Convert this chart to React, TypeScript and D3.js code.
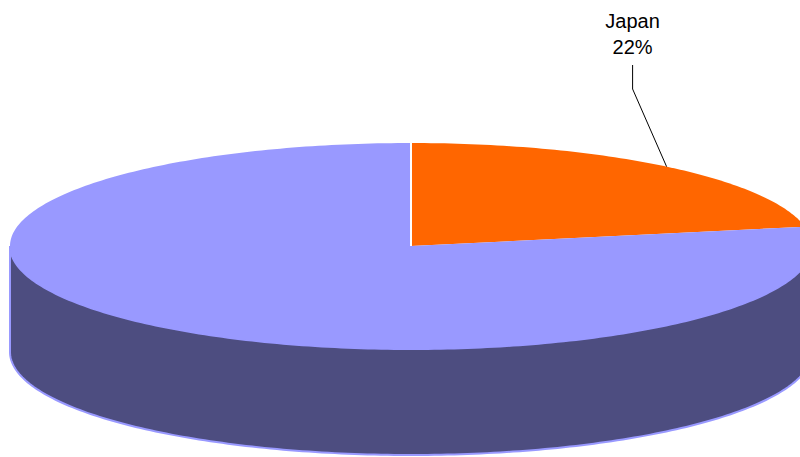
import * as d3 from 'd3';
import React from 'react';

const width = 800;
const height = 457;

// pie data
const categories = ['Japan', 'Other'];
const values = [22, 78];
const showLabel = [true, false];
const topColors = ['#FF6600', '#9999FF'];
const sideColors = ['#803300', '#4D4D80'];

const cx = 411;
const cy = 246;
const rx = 401;
const ry = 103;
const depth = 106;

const pt = (a: number, dy = 0): [number, number] => [cx + rx * Math.sin(a), cy - ry * Math.cos(a) + dy];

const arcPoints = (a0: number, a1: number, dy = 0) => {
  const n = Math.max(2, Math.ceil(Math.abs(a1 - a0) * 60));
  return d3.range(n + 1).map(i => pt(a0 + ((a1 - a0) * i) / n, dy));
};

const topPath = (a0: number, a1: number) => {
  const p = d3.path();
  p.moveTo(cx, cy);
  arcPoints(a0, a1).forEach(([x, y]) => p.lineTo(x, y));
  p.closePath();
  return p.toString();
};

const sidePath = (a0: number, a1: number) => {
  const s = Math.max(a0, Math.PI / 2);
  const e = Math.min(a1, (3 * Math.PI) / 2);
  if (e <= s) return null;
  const p = d3.path();
  const top = arcPoints(s, e);
  const bottom = arcPoints(e, s, depth);
  top.forEach(([x, y], i) => (i ? p.lineTo(x, y) : p.moveTo(x, y)));
  bottom.forEach(([x, y]) => p.lineTo(x, y));
  p.closePath();
  return p.toString();
};

const App = () => {
  const pie = d3.pie<number>().sort(null).value(d => d);
  const arcs = pie(values);
  const percent = d3.format('.0%');
  const total = d3.sum(values);
  const [sx, sy] = pt(arcs[0].startAngle);

  return (
    <svg width={width} height={height} style={{ position: 'absolute', left: 0, top: 0 }}>
      <g>
        {arcs.map((a, i) => {
          const d = sidePath(a.startAngle, a.endAngle);
          return d ? <path key={'s' + i} d={d} fill={sideColors[i]} stroke={topColors[i]} strokeWidth={2} /> : null;
        })}
      </g>
      <g>
        {arcs.map((a, i) => (
          <path key={'t' + i} d={topPath(a.startAngle, a.endAngle)} fill={topColors[i]} />
        ))}
        <line x1={cx} y1={cy} x2={sx} y2={sy} stroke="#fff" strokeWidth={2} />
      </g>
      <g fontFamily="'Liberation Sans', Arial, sans-serif" fontSize={20} fill="#000" textAnchor="middle">
        {arcs.map((a, i) => {
          if (!showLabel[i]) return null;
          const mid = (a.startAngle + a.endAngle) / 2;
          const [ex, ey] = pt(mid);
          const lx = ex - 34;
          return (
            <g key={'l' + i}>
              <polyline points={`${ex},${ey} ${lx},89 ${lx},65`} fill="none" stroke="#000" strokeWidth={1} />
              <text x={lx} y={28}>{categories[i]}</text>
              <text x={lx} y={54}>{percent(values[i] / total)}</text>
            </g>
          );
        })}
      </g>
    </svg>
  );
};

export default App;
